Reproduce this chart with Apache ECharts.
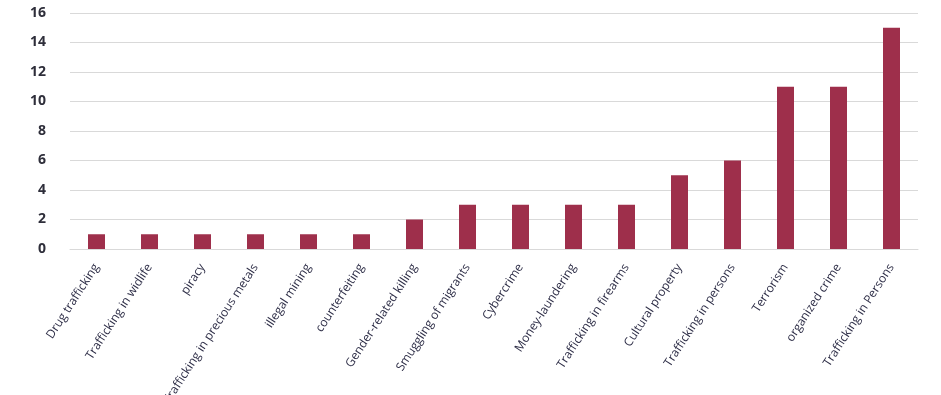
<!DOCTYPE html>
<html>
<head>
<meta charset="utf-8">
<script src="https://cdn.jsdelivr.net/npm/echarts@6/dist/echarts.min.js"></script>
<style>html,body{margin:0;padding:0;background:#fff}#c{width:941px;height:395px}</style>
</head>
<body>
<div id="c"></div>
<script>
const categories = ["Drug trafficking","Trafficking in widlife","piracy","Trafficking in precious metals","illegal mining","counterfeiting","Gender-related killing","Smuggling of migrants","Cybercrime","Money-laundering","Trafficking in firearms","Cultural property","Trafficking in persons","Terrorism","organized crime","Trafficking in Persons"];
const values = [1,1,1,1,1,1,2,3,3,3,3,5,6,11,11,15];
const yTicks = {min:0, max:16, interval:2};

const chart = echarts.init(document.getElementById('c'), null, {renderer:'canvas'});
chart.setOption({
  animation:false,
  grid:{left:70, right:23, top:13, bottom:146, containLabel:false, outerBoundsMode:'none'},
  xAxis:{
    type:'category', data:categories,
    axisLine:{show:true, lineStyle:{color:'#d9d9d9', width:1}},
    axisTick:{show:false},
    axisLabel:{interval:0, rotate:57, margin:16, color:'#2f2f48', fontFamily:'Open Sans', fontSize:12}
  },
  yAxis:{
    type:'value', min:yTicks.min, max:yTicks.max, interval:yTicks.interval,
    axisLine:{show:false}, axisTick:{show:false},
    splitLine:{lineStyle:{color:'#d9d9d9', width:1}},
    axisLabel:{margin:24, color:'#2e2e3a', fontFamily:'Open Sans', fontSize:14, fontWeight:'bold'}
  },
  series:[{type:'bar', data:values, barWidth:17, itemStyle:{color:'#9e2f4b'}}]
});
</script>
</body>
</html>
